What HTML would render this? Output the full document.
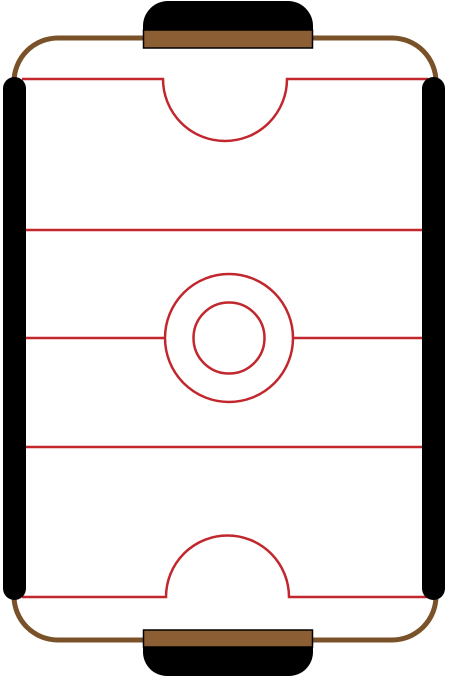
<!DOCTYPE html>
<html><head><meta charset="utf-8"><style>html,body{margin:0;padding:0;background:#fff;width:450px;height:680px;overflow:hidden}</style></head>
<body>
<svg width="450" height="680" viewBox="0 0 450 680" xmlns="http://www.w3.org/2000/svg">
<rect x="14" y="38" width="422" height="602" rx="44" fill="#fff" stroke="#7a5229" stroke-width="5"/>
<g fill="none" stroke="#c1272d" stroke-width="2.5">
<path d="M22 79 H163 A62 62 0 0 0 287 79 H428"/>
<line x1="22" y1="230" x2="428" y2="230"/>
<path d="M22 338 H165 M293 338 H428"/>
<line x1="22" y1="447" x2="428" y2="447"/>
<path d="M22 597 H166 A61.5 61.5 0 0 1 289 597 H428"/>
<circle cx="229" cy="338" r="64"/>
<circle cx="229" cy="338" r="35.5"/>
</g>
<rect x="3" y="77" width="23" height="523" rx="11.5" fill="#000"/>
<rect x="422" y="77" width="23" height="523" rx="11.5" fill="#000"/>
<path d="M143 32 V26 A25 25 0 0 1 168 1 H288 A25 25 0 0 1 313 26 V32 Z" fill="#000"/>
<rect x="143.5" y="30" width="169" height="18" fill="#8b5e34" stroke="#000" stroke-width="1.5"/>
<path d="M143 646 V652 A24 24 0 0 0 167 676 H289 A24 24 0 0 0 313 652 V646 Z" fill="#000"/>
<rect x="143.5" y="630" width="169" height="17" fill="#8b5e34" stroke="#000" stroke-width="1.5"/>
</svg>
</body></html>
